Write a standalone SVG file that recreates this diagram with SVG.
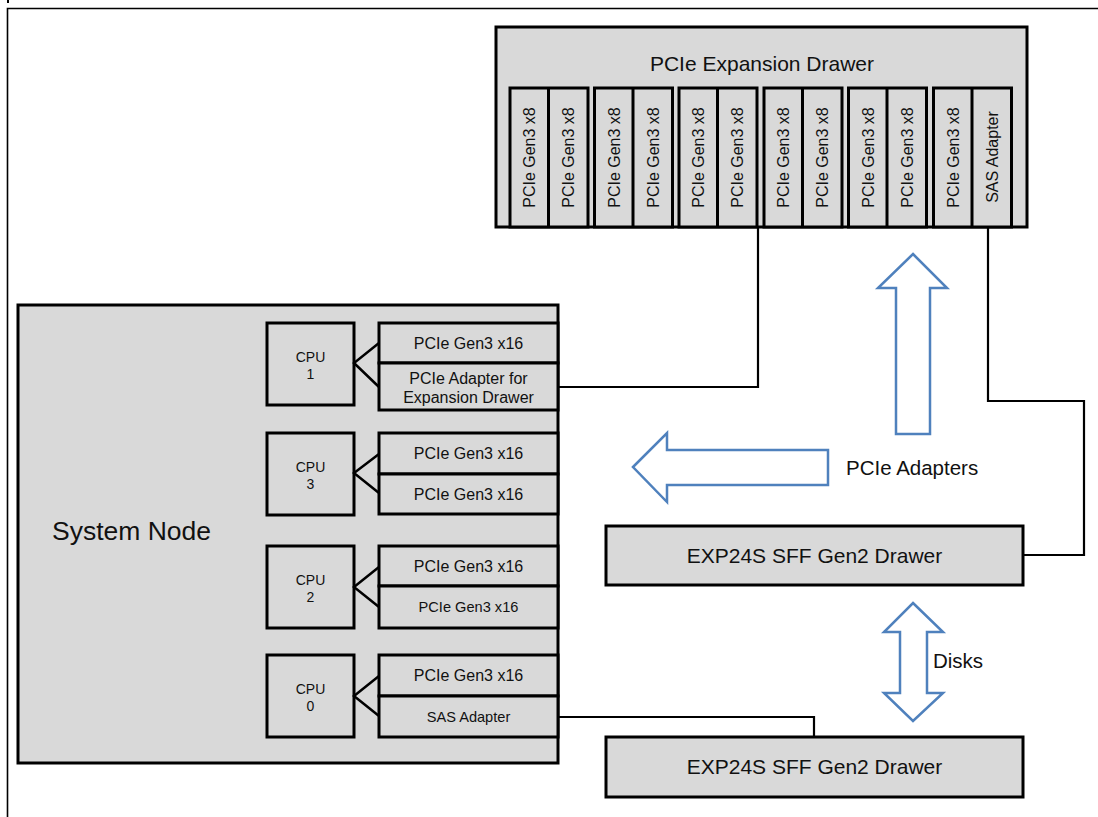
<svg xmlns="http://www.w3.org/2000/svg" width="1098" height="817" viewBox="0 0 1098 817">
<style>
.box{fill:#d9d9d9;stroke:#000;stroke-width:3}
.thin{fill:none;stroke:#000;stroke-width:2.5}
.conn{fill:none;stroke:#000;stroke-width:2.2}
.blue{fill:#fff;stroke:#4f81bd;stroke-width:2.5;stroke-linejoin:miter}
text{font-family:"Liberation Sans",Arial,sans-serif;fill:#111}
.slot{font-size:16px;text-anchor:middle}
.ad{font-size:16px;text-anchor:middle}
.ads{font-size:14.6px;text-anchor:middle}
.cpu{font-size:14px;text-anchor:middle}
.big{font-size:21px;text-anchor:middle}
</style>
<g id="frame">
<path d="M7.5,817 V8.5 H1098" fill="none" stroke="#000" stroke-width="1.6"/>
<line x1="8" y1="0" x2="8" y2="3" stroke="#000" stroke-width="2"/>
</g>
<g id="expansion-drawer">
<rect class="box" x="496" y="27" width="531" height="200"/>
<text class="big" x="762" y="71">PCIe Expansion Drawer</text>
</g>
<g id="slot-group-1">
<rect class="box" x="510" y="88" width="78" height="139"/>
<line x1="548.5" y1="88" x2="548.5" y2="227" stroke="#000" stroke-width="3"/>
<text class="slot" transform="translate(535,157.5) rotate(-90)">PCIe Gen3 x8</text>
<text class="slot" transform="translate(574,157.5) rotate(-90)">PCIe Gen3 x8</text>
</g>
<g id="slot-group-2">
<rect class="box" x="594.5" y="88" width="78" height="139"/>
<line x1="633" y1="88" x2="633" y2="227" stroke="#000" stroke-width="3"/>
<text class="slot" transform="translate(619.5,157.5) rotate(-90)">PCIe Gen3 x8</text>
<text class="slot" transform="translate(658.5,157.5) rotate(-90)">PCIe Gen3 x8</text>
</g>
<g id="slot-group-3">
<rect class="box" x="679" y="88" width="78" height="139"/>
<line x1="717.5" y1="88" x2="717.5" y2="227" stroke="#000" stroke-width="3"/>
<text class="slot" transform="translate(704,157.5) rotate(-90)">PCIe Gen3 x8</text>
<text class="slot" transform="translate(743,157.5) rotate(-90)">PCIe Gen3 x8</text>
</g>
<g id="slot-group-4">
<rect class="box" x="764" y="88" width="78" height="139"/>
<line x1="802.5" y1="88" x2="802.5" y2="227" stroke="#000" stroke-width="3"/>
<text class="slot" transform="translate(789,157.5) rotate(-90)">PCIe Gen3 x8</text>
<text class="slot" transform="translate(828,157.5) rotate(-90)">PCIe Gen3 x8</text>
</g>
<g id="slot-group-5">
<rect class="box" x="848.5" y="88" width="78" height="139"/>
<line x1="887" y1="88" x2="887" y2="227" stroke="#000" stroke-width="3"/>
<text class="slot" transform="translate(873.5,157.5) rotate(-90)">PCIe Gen3 x8</text>
<text class="slot" transform="translate(912.5,157.5) rotate(-90)">PCIe Gen3 x8</text>
</g>
<g id="slot-group-6">
<rect class="box" x="933.5" y="88" width="78" height="139"/>
<line x1="972" y1="88" x2="972" y2="227" stroke="#000" stroke-width="3"/>
<text class="slot" transform="translate(958.5,157.5) rotate(-90)">PCIe Gen3 x8</text>
<text class="slot" transform="translate(997.5,157) rotate(-90)">SAS Adapter</text>
</g>
<g id="system-node">
<rect class="box" x="18" y="305" width="540" height="458"/>
<text x="52" y="540" font-size="26.5">System Node</text>
</g>
<g id="cpu1">
<rect class="box" x="267" y="323" width="87" height="82"/>
<text class="cpu" x="310.5" y="362">CPU</text>
<text class="cpu" x="310.5" y="379">1</text>
<path class="thin" d="M379,343 L354,363 L379,387"/>
<rect class="box" x="379" y="323" width="179" height="40"/>
<text class="ad" x="468.5" y="349">PCIe Gen3 x16</text>
<rect class="box" x="379" y="363" width="179" height="47"/>
<text class="ad" x="468.5" y="384">PCIe Adapter for</text>
<text class="ad" x="468.5" y="403">Expansion Drawer</text>
</g>
<g id="cpu3">
<rect class="box" x="267" y="433" width="87" height="82"/>
<text class="cpu" x="310.5" y="472">CPU</text>
<text class="cpu" x="310.5" y="489">3</text>
<path class="thin" d="M379,454 L354,473 L379,493"/>
<rect class="box" x="379" y="433" width="179" height="41"/>
<text class="ad" x="468.5" y="459">PCIe Gen3 x16</text>
<rect class="box" x="379" y="474" width="179" height="40"/>
<text class="ad" x="468.5" y="500">PCIe Gen3 x16</text>
</g>
<g id="cpu2">
<rect class="box" x="267" y="546" width="87" height="82"/>
<text class="cpu" x="310.5" y="585">CPU</text>
<text class="cpu" x="310.5" y="602">2</text>
<path class="thin" d="M379,567 L354,587 L379,607"/>
<rect class="box" x="379" y="546" width="179" height="40"/>
<text class="ad" x="468.5" y="572">PCIe Gen3 x16</text>
<rect class="box" x="379" y="586" width="179" height="42"/>
<text class="ads" x="468.5" y="612">PCIe Gen3 x16</text>
</g>
<g id="cpu0">
<rect class="box" x="267" y="655" width="87" height="82"/>
<text class="cpu" x="310.5" y="694">CPU</text>
<text class="cpu" x="310.5" y="711">0</text>
<path class="thin" d="M379,676 L354,696 L379,716"/>
<rect class="box" x="379" y="655" width="179" height="41"/>
<text class="ad" x="468.5" y="681">PCIe Gen3 x16</text>
<rect class="box" x="379" y="696" width="179" height="41"/>
<text class="ads" x="468.5" y="722">SAS Adapter</text>
</g>
<g id="exp24s-1">
<rect class="box" x="606" y="526" width="417" height="59"/>
<text class="big" x="814.5" y="563">EXP24S SFF Gen2 Drawer</text>
</g>
<g id="exp24s-2">
<rect class="box" x="606" y="737" width="417" height="60"/>
<text class="big" x="814.5" y="774">EXP24S SFF Gen2 Drawer</text>
</g>
<g id="connectors">
<path class="conn" d="M758,227 V387 H558"/>
<path class="conn" d="M988,227 V401 H1084 V555 H1023"/>
<path class="conn" d="M558,717 H814 V737"/>
</g>
<g id="arrows">
<polygon class="blue" points="913,254 947,288 930,288 930,434 896,434 896,288 878,288"/>
<polygon class="blue" points="633,467 667,433 667,450 828,450 828,485 667,485 667,502"/>
<polygon class="blue" points="913,603 943,632 927,632 927,693 943,693 913,721 884,693 900,693 900,632 884,632"/>
<text x="846" y="475" font-size="20.5">PCIe Adapters</text>
<text x="933" y="668" font-size="20.5">Disks</text>
</g>
</svg>
